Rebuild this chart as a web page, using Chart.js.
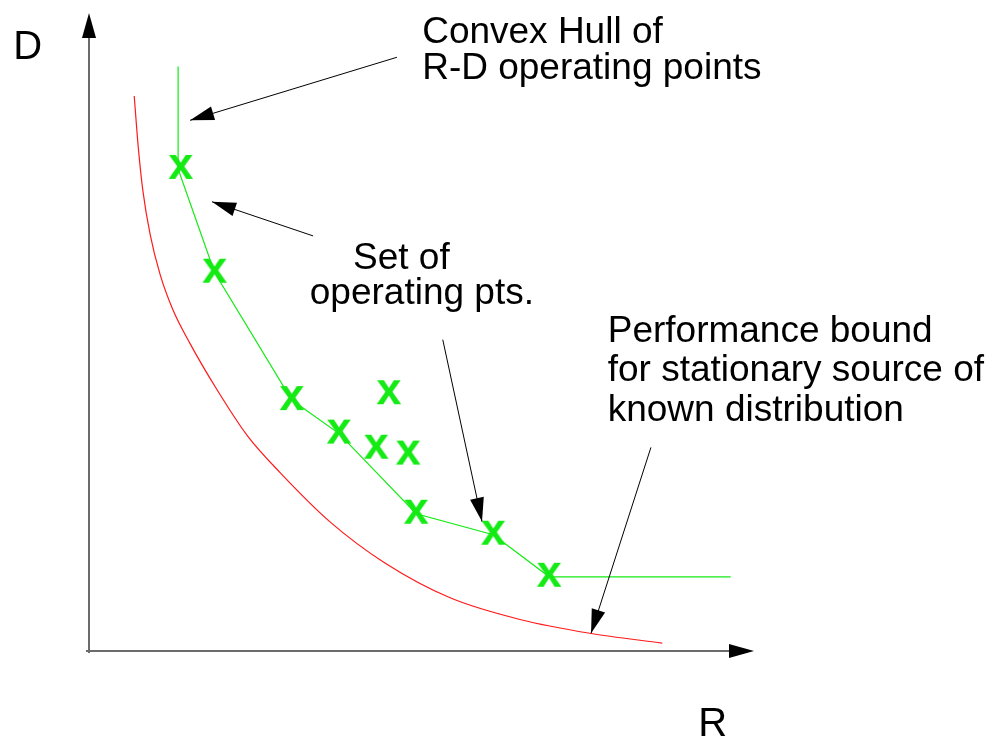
<!DOCTYPE html>
<html>
<head>
<meta charset="utf-8">
<title>R-D operating points</title>
<script src="https://cdn.jsdelivr.net/npm/chart.js@4.4.1/dist/chart.umd.min.js"></script>
<style>
  html, body { margin: 0; padding: 0; background: #fff; }
  #wrap { width: 995px; height: 742px; }
</style>
</head>
<body>
<div id="wrap"><canvas id="rd" width="995" height="742"></canvas></div>
<script>
// rate R / distortion D (axis units: 0..10 on R)
const boundR = [0.68, 0.74, 0.81, 0.92, 1.07, 1.26, 1.52, 1.93, 2.38, 2.87, 3.62, 4.45, 5.43, 6.48, 7.53, 8.62];
const boundD = [8.45, 7.68, 7.01, 6.34, 5.73, 5.20, 4.68, 3.97, 3.28, 2.72, 1.97, 1.34, 0.81, 0.48, 0.27, 0.12];

const hullR = [1.34, 1.34, 1.89, 3.05, 3.76, 4.92, 6.08, 6.92, 9.65];
const hullD = [8.90, 7.34, 5.76, 3.82, 3.31, 2.09, 1.77, 1.13, 1.13];

const opR = [1.38, 1.89, 3.05, 3.76, 4.51, 4.32, 4.80, 4.92, 6.08, 6.92];
const opD = [7.34, 5.76, 3.82, 3.31, 3.91, 3.08, 2.99, 2.09, 1.77, 1.13];

// annotation text + arrows, in the same R/D units
const labels = [
  { text: "Convex Hull of", r: 5.01, d: 9.25 },
  { text: "R-D operating points", r: 5.01, d: 8.71 },
  { text: "Set of", r: 3.97, d: 5.82 },
  { text: "operating pts.", r: 3.32, d: 5.28 },
  { text: "Performance bound", r: 7.80, d: 4.71 },
  { text: "for stationary source of", r: 7.80, d: 4.11 },
  { text: "known distribution", r: 7.80, d: 3.50 }
];
const arrows = [
  { from: [4.63, 9.04], to: [1.52, 8.08] },
  { from: [3.37, 6.32], to: [1.85, 6.84] },
  { from: [5.32, 4.74], to: [5.91, 1.97] },
  { from: [8.45, 3.10], to: [7.55, 0.27] }
];
const axisNames = { x: "R", y: "D" };

const GREEN = "#14ea14";
const FONT = "Liberation Sans, Arial, Helvetica, sans-serif";

const zip = (xs, ys) => xs.map((x, i) => ({ x, y: ys[i] }));

// bold lowercase "x" used as the point marker
function makeMarker() {
  const c = document.createElement("canvas");
  c.width = 34; c.height = 34;
  const g = c.getContext("2d");
  g.fillStyle = GREEN;
  g.font = "bold 45px " + FONT;
  g.textAlign = "center";
  g.textBaseline = "alphabetic";
  g.fillText("x", 17, 17 + 9.5);
  return c;
}

function arrowHead(ctx, x0, y0, x1, y1, len, half) {
  const a = Math.atan2(y1 - y0, x1 - x0);
  ctx.beginPath();
  ctx.moveTo(x1, y1);
  ctx.lineTo(x1 - len * Math.cos(a) + half * Math.sin(a), y1 - len * Math.sin(a) - half * Math.cos(a));
  ctx.lineTo(x1 - len * Math.cos(a) - half * Math.sin(a), y1 - len * Math.sin(a) + half * Math.cos(a));
  ctx.closePath();
  ctx.fill();
}

const axesPlugin = {
  id: "axes",
  beforeDatasetsDraw(chart) {
    const { ctx, chartArea: a } = chart;
    ctx.save();
    ctx.strokeStyle = "#6b6b6b";
    ctx.lineWidth = 2;
    ctx.beginPath();
    ctx.moveTo(a.left, a.bottom + 2);
    ctx.lineTo(a.left, a.top + 20);
    ctx.moveTo(a.left - 3, a.bottom);
    ctx.lineTo(a.right - 20, a.bottom);
    ctx.stroke();
    ctx.fillStyle = "#000";
    arrowHead(ctx, a.left, a.bottom, a.left, a.top, 25, 7);
    arrowHead(ctx, a.left, a.bottom, a.right, a.bottom, 25, 7);
    ctx.restore();
  }
};

const notesPlugin = {
  id: "notes",
  afterDraw(chart) {
    const { ctx } = chart;
    const sx = chart.scales.x, sy = chart.scales.y;
    ctx.save();
    ctx.fillStyle = "#000";
    ctx.strokeStyle = "#000";
    ctx.lineWidth = 1;
    arrows.forEach(ar => {
      const x0 = sx.getPixelForValue(ar.from[0]), y0 = sy.getPixelForValue(ar.from[1]);
      const x1 = sx.getPixelForValue(ar.to[0]), y1 = sy.getPixelForValue(ar.to[1]);
      ctx.beginPath();
      ctx.moveTo(x0, y0);
      ctx.lineTo(x1, y1);
      ctx.stroke();
      arrowHead(ctx, x0, y0, x1, y1, 24, 7);
    });
    ctx.textAlign = "left";
    ctx.textBaseline = "alphabetic";
    ctx.font = "37px " + FONT;
    labels.forEach(l => {
      ctx.fillText(l.text, sx.getPixelForValue(l.r), sy.getPixelForValue(l.d));
    });
    ctx.font = "40px " + FONT;
    ctx.fillText(axisNames.y, sx.getPixelForValue(-1.14), sy.getPixelForValue(9.01));
    ctx.fillText(axisNames.x, sx.getPixelForValue(9.16), sy.getPixelForValue(-1.29));
    ctx.restore();
  }
};

new Chart(document.getElementById("rd"), {
  type: "scatter",
  data: {
    datasets: [
      {
        label: "bound",
        data: zip(boundR, boundD),
        showLine: true,
        borderColor: "#ff1a1a",
        borderWidth: 1.2,
        pointRadius: 0,
        cubicInterpolationMode: "monotone",
        fill: false
      },
      {
        label: "hull",
        data: zip(hullR, hullD),
        showLine: true,
        borderColor: GREEN,
        borderWidth: 1.2,
        pointRadius: 0,
        tension: 0,
        fill: false
      },
      {
        label: "operating points",
        data: zip(opR, opD),
        pointStyle: makeMarker(),
        pointRadius: 12,
        clip: false
      }
    ]
  },
  options: {
    responsive: false,
    animation: false,
    events: [],
    layout: { padding: { left: 89, right: 241, top: 5, bottom: 91 } },
    scales: {
      x: { type: "linear", min: 0, max: 10, display: false },
      y: { type: "linear", min: 0, max: 9.714, display: false }
    },
    plugins: {
      legend: { display: false },
      tooltip: { enabled: false }
    }
  },
  plugins: [axesPlugin, notesPlugin]
});
</script>
</body>
</html>
